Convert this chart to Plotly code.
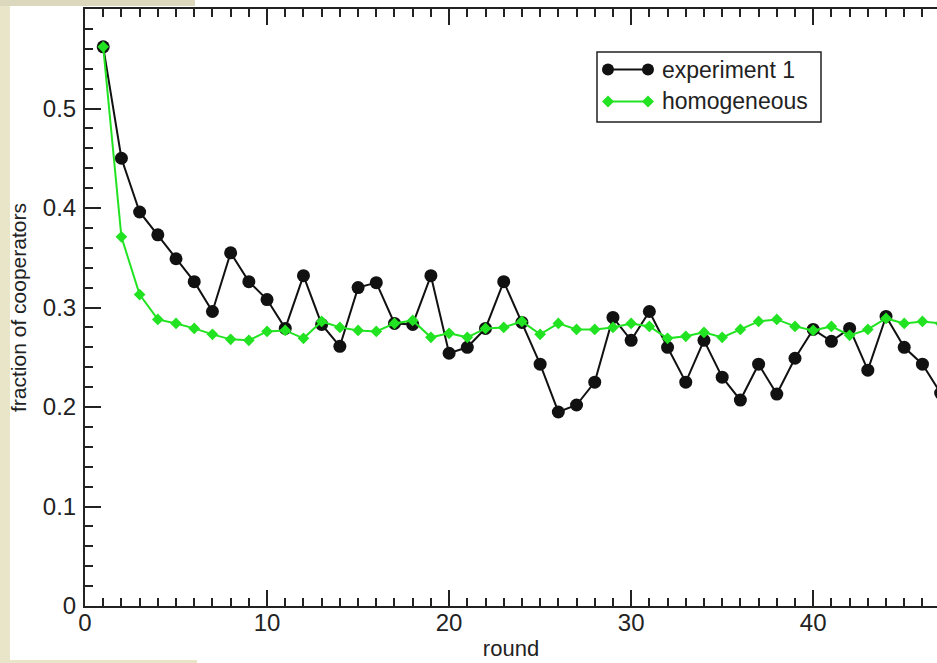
import plotly.graph_objects as go

rounds = list(range(1, 48))
experiment1 = [0.562, 0.450, 0.396, 0.373, 0.349, 0.326, 0.296, 0.355, 0.326, 0.308,
               0.279, 0.332, 0.283, 0.261, 0.320, 0.325, 0.284, 0.283, 0.332, 0.254,
               0.260, 0.279, 0.326, 0.285, 0.243, 0.195, 0.202, 0.225, 0.290, 0.267,
               0.296, 0.260, 0.225, 0.267, 0.230, 0.207, 0.243, 0.213, 0.249, 0.278,
               0.266, 0.279, 0.237, 0.291, 0.260, 0.243, 0.214]
homogeneous = [0.562, 0.371, 0.313, 0.288, 0.284, 0.279, 0.273, 0.268, 0.267, 0.276,
               0.277, 0.269, 0.286, 0.280, 0.277, 0.276, 0.284, 0.287, 0.270, 0.274,
               0.270, 0.279, 0.280, 0.286, 0.273, 0.284, 0.278, 0.278, 0.280, 0.284,
               0.281, 0.269, 0.271, 0.275, 0.270, 0.278, 0.286, 0.288, 0.281, 0.277,
               0.281, 0.272, 0.278, 0.289, 0.284, 0.286, 0.284]
series_names = ["experiment 1", "homogeneous"]
y_tickvals = [0, 0.1, 0.2, 0.3, 0.4, 0.5]
y_ticktext = ["0", "0.1", "0.2", "0.3", "0.4", "0.5"]
x_tickvals = [0, 10, 20, 30, 40]

W, H = 937, 663
L, R, T, B = 85, 0, 9, 57
PW, PH = W - L - R, H - T - B

BLACK = "#111111"
GREEN = "#22e322"
AX = "#222222"
FONT = "Liberation Sans, Arial, Helvetica, sans-serif"


def px(x):
    return (x - L) / PW


def py(y):
    return (H - B - y) / PH


fig = go.Figure()
fig.add_trace(go.Scatter(x=rounds, y=experiment1, mode="lines+markers", name=series_names[0],
                         line=dict(color=BLACK, width=2),
                         marker=dict(symbol="circle", size=13, color=BLACK),
                         showlegend=False))
fig.add_trace(go.Scatter(x=rounds, y=homogeneous, mode="lines+markers", name=series_names[1],
                         line=dict(color=GREEN, width=2),
                         marker=dict(symbol="diamond", size=9, color=GREEN),
                         showlegend=False))

shapes = []
beige = "#e8e5c9"
# page decoration strips
shapes.append(dict(type="rect", xref="paper", yref="paper", x0=px(0), x1=px(10), y0=py(H), y1=py(0),
                   fillcolor=beige, line=dict(width=0), layer="below"))
shapes.append(dict(type="rect", xref="paper", yref="paper", x0=px(0), x1=px(195), y0=py(6), y1=py(0),
                   fillcolor="#dcd8bd", line=dict(width=0), layer="below"))
shapes.append(dict(type="rect", xref="paper", yref="paper", x0=px(0), x1=px(197), y0=py(H), y1=py(660),
                   fillcolor=beige, line=dict(width=0), layer="below"))

# legend box
shapes.append(dict(type="rect", xref="paper", yref="paper", x0=px(597), x1=px(821), y0=py(122), y1=py(52),
                   fillcolor="white", line=dict(color=AX, width=1.5)))
rows = [(69.5, BLACK, "circle", series_names[0]), (101.5, GREEN, "diamond", series_names[1])]
annotations = []
for yy, col, sym, name in rows:
    shapes.append(dict(type="line", xref="paper", yref="paper", x0=px(608), x1=px(648), y0=py(yy), y1=py(yy),
                       line=dict(color=col, width=2)))
    for cx in (608, 648):
        r = 6
        if sym == "circle":
            shapes.append(dict(type="circle", xref="paper", yref="paper", x0=px(cx - r), x1=px(cx + r),
                               y0=py(yy + r), y1=py(yy - r), fillcolor=col, line=dict(width=0)))
        else:
            path = "M {} {} L {} {} L {} {} L {} {} Z".format(px(cx - r), py(yy), px(cx), py(yy - r),
                                                              px(cx + r), py(yy), px(cx), py(yy + r))
            shapes.append(dict(type="path", xref="paper", yref="paper", path=path,
                               fillcolor=col, line=dict(width=0)))
    annotations.append(dict(text=name, xref="paper", yref="paper", x=px(660), y=py(yy),
                            xanchor="left", yanchor="middle", showarrow=False,
                            font=dict(family=FONT, size=23, color=AX)))

fig.update_layout(
    width=W, height=H,
    margin=dict(l=L, r=R, t=T, b=B, pad=0),
    paper_bgcolor="white", plot_bgcolor="white",
    font=dict(family=FONT, color=AX),
    shapes=shapes, annotations=annotations,
    xaxis=dict(range=[0, 46.8], tickmode="array", tickvals=x_tickvals,
               ticks="inside", ticklen=16, tickwidth=1.5, tickcolor=AX,
               minor=dict(dtick=1, tick0=0, ticks="inside", ticklen=8, tickwidth=1.5, tickcolor=AX),
               showline=True, linecolor=AX, linewidth=2, mirror="allticks",
               showgrid=False, zeroline=False,
               tickfont=dict(size=24, color=AX), ticklabelstandoff=-6,
               title=dict(text="round", font=dict(size=22, color=AX), standoff=6)),
    yaxis=dict(range=[0, 0.6], tickmode="array", tickvals=y_tickvals, ticktext=y_ticktext,
               ticks="inside", ticklen=16, tickwidth=1.5, tickcolor=AX,
               minor=dict(dtick=0.02, tick0=0, ticks="inside", ticklen=8, tickwidth=1.5, tickcolor=AX),
               showline=True, linecolor=AX, linewidth=2, mirror=False,
               showgrid=False, zeroline=False,
               tickfont=dict(size=24, color=AX), ticklabelstandoff=2,
               title=dict(text="fraction of cooperators", font=dict(size=21, color=AX), standoff=10)),
    yaxis2=dict(range=[0, 0.6], overlaying="y", side="right", anchor="x",
                tickmode="array", tickvals=y_tickvals, showticklabels=False,
                ticks="inside", ticklen=16, tickwidth=1.5, tickcolor=AX,
                minor=dict(dtick=0.02, tick0=0, ticks="inside", ticklen=8, tickwidth=1.5, tickcolor=AX),
                showline=False, showgrid=False, zeroline=False),
    showlegend=False,
)

fig.write_html("out.html", config={"displayModeBar": False},
               post_script="document.body.style.margin='0px';document.body.style.overflow='hidden';")
